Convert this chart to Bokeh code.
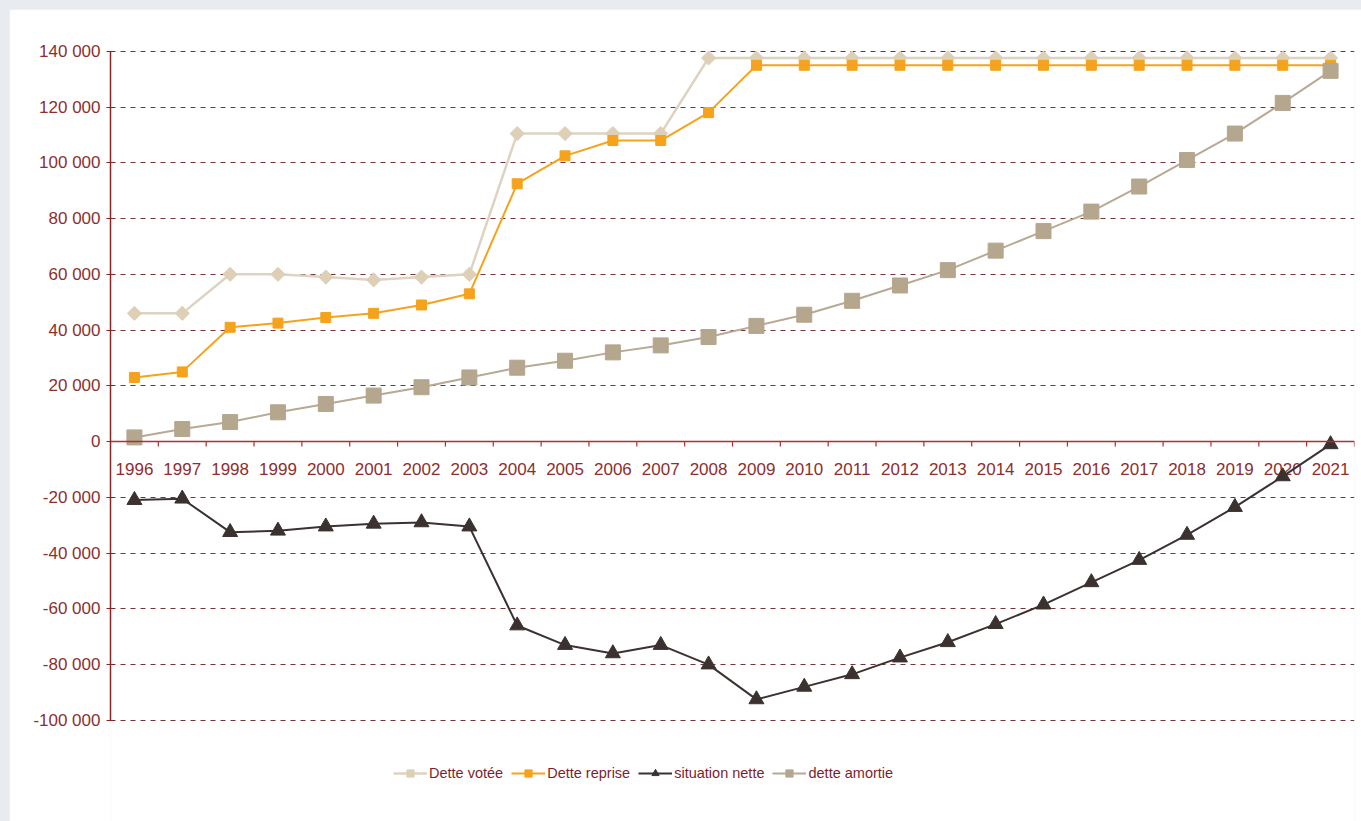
from bokeh.plotting import figure
from bokeh.models import (Range1d, FixedTicker, Span, Legend, LegendItem, Column)
from bokeh.core.properties import value
from bokeh.embed import file_html
from bokeh.resources import INLINE

years = list(range(1996, 2022))

dette_votee = [46000, 46000, 60000, 60000, 59000, 58000, 59000, 60000,
               110500, 110500, 110500, 110500, 137600, 137600, 137600, 137600,
               137600, 137600, 137600, 137600, 137600, 137600, 137600, 137600,
               137600, 137600]
dette_reprise = [23000, 25000, 41000, 42500, 44500, 46000, 49000, 53000,
                 92500, 102500, 108000, 108000, 118000, 135000, 135000, 135000,
                 135000, 135000, 135000, 135000, 135000, 135000, 135000, 135000,
                 135000, 135000]
situation_nette = [-21000, -20500, -32500, -32000, -30500, -29500, -29000, -30500,
                   -66000, -73000, -76000, -73000, -80000, -92500, -88000, -83500,
                   -77500, -72000, -65500, -58500, -50500, -42500, -33500, -23500,
                   -12500, -1000]
dette_amortie = [1500, 4500, 7000, 10500, 13500, 16500, 19500, 23000,
                 26500, 29000, 32000, 34500, 37500, 41500, 45500, 50500,
                 56000, 61500, 68500, 75500, 82500, 91500, 101000, 110500,
                 121500, 133000]

y_ticks = [-100000, -80000, -60000, -40000, -20000, 0, 20000, 40000,
           60000, 80000, 100000, 120000, 140000]
y_tick_labels = ["-100 000", "-80 000", "-60 000", "-40 000", "-20 000", "0",
                 "20 000", "40 000", "60 000", "80 000", "100 000", "120 000",
                 "140 000"]

AXIS = "#8b2424"
LABEL = "#8b2f2f"
FONT = "Liberation Sans"

# the frame runs down to the bottom edge so the legend can sit inside it
p = figure(width=1352, height=812, output_backend="svg", toolbar_location=None,
           x_range=Range1d(1995.5, 2021.5), y_range=Range1d(-136300, 140300),
           min_border_left=101, min_border_right=7, min_border_top=41,
           min_border_bottom=0)
p.margin = (9, 0, 0, 9)
p.outline_line_color = None
p.background_fill_color = "white"
p.border_fill_color = "white"

# y axis: crossing ticks, space-grouped thousands
p.yaxis.bounds = (-100000, 140000)
p.yaxis.ticker = FixedTicker(ticks=y_ticks)
p.yaxis.major_label_overrides = dict(zip(y_ticks, y_tick_labels))
p.yaxis.axis_line_color = AXIS
p.yaxis.axis_line_width = 1.5
p.yaxis.major_tick_line_color = AXIS
p.yaxis.major_tick_in = 4
p.yaxis.major_tick_out = 4
p.yaxis.minor_tick_line_color = None
p.yaxis.major_label_text_color = LABEL
p.yaxis.major_label_text_font = FONT
p.yaxis.major_label_text_font_size = "17px"
p.yaxis.major_label_standoff = 6

p.xaxis.visible = False
p.xgrid.visible = False
p.ygrid.ticker = FixedTicker(ticks=[t for t in y_ticks if t != 0])
p.ygrid.grid_line_color = "#74343a"
p.ygrid.grid_line_dash = "5 5"
p.ygrid.grid_line_width = 1.2

# horizontal category axis drawn at zero
p.add_layout(Span(location=0, dimension="width", line_color="#a83232", line_width=1.5))
bounds = [y - 0.5 for y in years[1:]] + [years[-1] + 0.5]
p.segment(x0=bounds, y0=[0] * len(bounds), x1=bounds, y1=[-1800] * len(bounds),
          line_color="#a83232", line_width=1.2)
p.text(x=years, y=[0] * len(years), text=[str(y) for y in years],
       text_font=value(FONT), text_font_size="17px", text_color=LABEL,
       text_align="center", text_baseline="middle", y_offset=27)

# series
l1 = p.line(years, dette_votee, line_color="#dcd3c2", line_width=2.5)
m1 = p.scatter(years, dette_votee, marker="square", angle=0.785, size=10,
               fill_color="#ddd0b6", line_color="#ddd0b6")
l2 = p.line(years, dette_reprise, line_color="#f5a31c", line_width=2)
m2 = p.scatter(years, dette_reprise, marker="square", size=10,
               fill_color="#f5a31c", line_color="#f5a31c")
l4 = p.line(years, dette_amortie, line_color="#b7a993", line_width=2)
m4 = p.scatter(years, dette_amortie, marker="square", size=15,
               fill_color="#b5a68e", line_color="#b5a68e")
l3 = p.line(years, situation_nette, line_color="#3b3230", line_width=2)
m3 = p.scatter(years, situation_nette, marker="triangle", size=15,
               fill_color="#3b3230", line_color="#3b3230")

legend = Legend(items=[
    LegendItem(label="Dette votée", renderers=[l1, m1]),
    LegendItem(label="Dette reprise", renderers=[l2, m2]),
    LegendItem(label="situation nette", renderers=[l3, m3]),
    LegendItem(label="dette amortie", renderers=[l4, m4]),
], orientation="horizontal", location=(283, 39))
legend.label_text_font = FONT
legend.label_text_font_size = "14.5px"
legend.label_text_color = "#7b1f2e"
legend.glyph_width = 34
legend.glyph_height = 18
legend.label_standoff = 2
legend.spacing = 8
legend.padding = 0
legend.margin = 0
legend.border_line_color = None
legend.background_fill_alpha = 0
p.add_layout(legend, "center")

page = Column(p, width=1361, height=821,
              styles={"background-color": "#e8ebf0"})

open("out.html", "w").write(file_html(page, INLINE))
